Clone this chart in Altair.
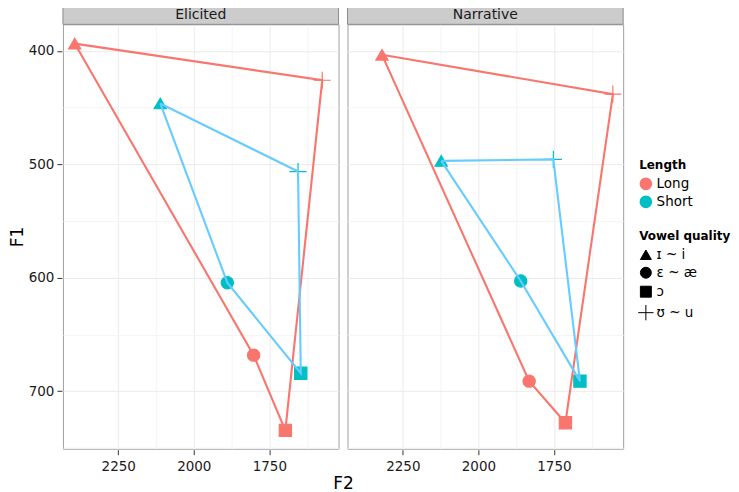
import altair as alt
import pandas as pd

tasks = ["Elicited", "Narrative"]
lengths = ["Long", "Short"]
# path order: triangle, plus, square, circle
vowel_path = ["ɪ ~ i", "ʊ ~ u", "ɔ", "ɛ ~ æ"]
vowel_legend = ["ɪ ~ i", "ɛ ~ æ", "ɔ", "ʊ ~ u"]

elicited_long_f2 = [2394, 1575, 1697, 1802]
elicited_long_f1 = [393.6, 425.9, 734.6, 668.3]
elicited_short_f2 = [2111, 1655, 1646, 1889]
elicited_short_f1 = [446.4, 506.4, 684.2, 604.4]
narrative_long_f2 = [2319, 1555, 1712, 1832]
narrative_long_f1 = [403.5, 438.2, 727.9, 691.2]
narrative_short_f2 = [2123, 1752, 1664, 1860]
narrative_short_f1 = [497.0, 495.7, 691.2, 602.9]

series = [
    ("Elicited", "Long", elicited_long_f2, elicited_long_f1),
    ("Elicited", "Short", elicited_short_f2, elicited_short_f1),
    ("Narrative", "Long", narrative_long_f2, narrative_long_f1),
    ("Narrative", "Short", narrative_short_f2, narrative_short_f1),
]
rows = []
for task, length, f2s, f1s in series:
    for seq in range(5):
        i = seq % 4
        rows.append({"Task": task, "Length": length, "Vowel": vowel_path[i],
                     "F2": f2s[i], "F1": f1s[i], "seq": seq})
df = pd.DataFrame(rows)

W, H = 276, 425
FONT = "DejaVu Sans"
point_colors = ["#F8766D", "#00BFC4"]
line_colors = ["#F8766D", "#66CCFF"]
plus_path = "M-1.4,0L1.4,0M0,-1.4L0,1.4"

x_enc = alt.X("F2:Q", title=None,
              scale=alt.Scale(domain=[1521, 2433], reverse=True, nice=False, zero=False),
              axis=alt.Axis(values=[2250, 2125, 2000, 1875, 1750, 1625],
                            labelExpr="datum.value % 250 === 0 ? datum.label : ''",
                            tickOpacity={"condition": {"test": "datum.value % 250 !== 0", "value": 0}, "value": 1},
                            gridColor={"condition": {"test": "datum.value % 250 !== 0", "value": "#F4F4F4"}, "value": "#EBEBEB"},
                            format="d", labelPadding=5))
y_enc = alt.Y("F1:Q", title="F1",
              scale=alt.Scale(domain=[376.6, 750.8], reverse=True, nice=False, zero=False),
              axis=alt.Axis(values=[400, 450, 500, 550, 600, 650, 700, 750],
                            labelExpr="datum.value % 100 === 0 ? datum.label : ''",
                            tickOpacity={"condition": {"test": "datum.value % 100 !== 0", "value": 0}, "value": 1},
                            gridColor={"condition": {"test": "datum.value % 100 !== 0", "value": "#F4F4F4"}, "value": "#EBEBEB"}))

base = alt.Chart()
one_per_panel = "datum.seq === 0 && datum.Length === 'Long'"

strip_rect = base.transform_filter(one_per_panel).mark_rect(
    fill="#CCCCCC", stroke="#8C8C8C", strokeWidth=1
).encode(x=alt.value(0), x2=alt.value(W), y=alt.value(-19.5), y2=alt.value(0))

strip_text = base.transform_filter(one_per_panel).mark_text(
    font=FONT, fontSize=14, color="#1a1a1a", baseline="middle", align="center"
).encode(text="Task:N", x=alt.value(W / 2), y=alt.value(-9))

points = base.transform_filter("datum.seq < 4").mark_point(
    filled=True, size=150, strokeWidth=1.2, opacity=1
).encode(
    x=x_enc, y=y_enc,
    fill=alt.Fill("Length:N", scale=alt.Scale(domain=lengths, range=point_colors),
                  legend=alt.Legend(title="Length", orient="none", legendX=577, legendY=136,
                                    symbolType="circle", symbolSize=160, symbolStrokeWidth=0)),
    stroke=alt.Stroke("Length:N", scale=alt.Scale(domain=lengths, range=point_colors), legend=None),
    shape=alt.Shape("Vowel:N", scale=alt.Scale(domain=vowel_legend,
                                              range=["triangle-up", "circle", "square", plus_path]),
                    legend=alt.Legend(title="Vowel quality", orient="none", legendX=577, legendY=207,
                                      symbolFillColor="black", symbolStrokeColor="black",
                                      symbolStrokeWidth=1, symbolSize=120)),
)

lines = base.mark_line(strokeWidth=2.1).encode(
    x=x_enc, y=y_enc,
    color=alt.Color("Length:N", scale=alt.Scale(domain=lengths, range=line_colors), legend=None),
    order="seq:Q",
    detail="Length:N",
)

layered = alt.layer(strip_rect, strip_text, points, lines).properties(width=W, height=H)

chart = layered.facet(
    column=alt.Column("Task:N", sort=tasks,
                      header=alt.Header(title="F2", titleOrient="bottom", labels=False,
                                        labelPadding=0, titleFont=FONT, titleFontSize=17,
                                        titleFontWeight="normal", titleColor="black",
                                        titlePadding=-8)),
    data=df,
    spacing=6,
).configure_view(
    stroke="#A0A0A0", strokeWidth=1
).configure_axis(
    labelFont=FONT, labelFontSize=13.5, labelColor="#1a1a1a",
    titleFont=FONT, titleFontSize=17, titleFontWeight="normal", titleColor="black",
    tickColor="#333333", tickSize=5, domain=False, labelPadding=3,
).configure_axisY(titlePadding=2).configure_legend(
    titleFont=FONT, titleFontSize=12, titleFontWeight="bold", titleColor="black",
    labelFont=FONT, labelFontSize=13.5, labelColor="black", rowPadding=3,
).properties(padding={"top": -5, "left": 0, "right": 0, "bottom": 0})

chart.save("out.html", embed_options={"renderer": "svg", "actions": False})
